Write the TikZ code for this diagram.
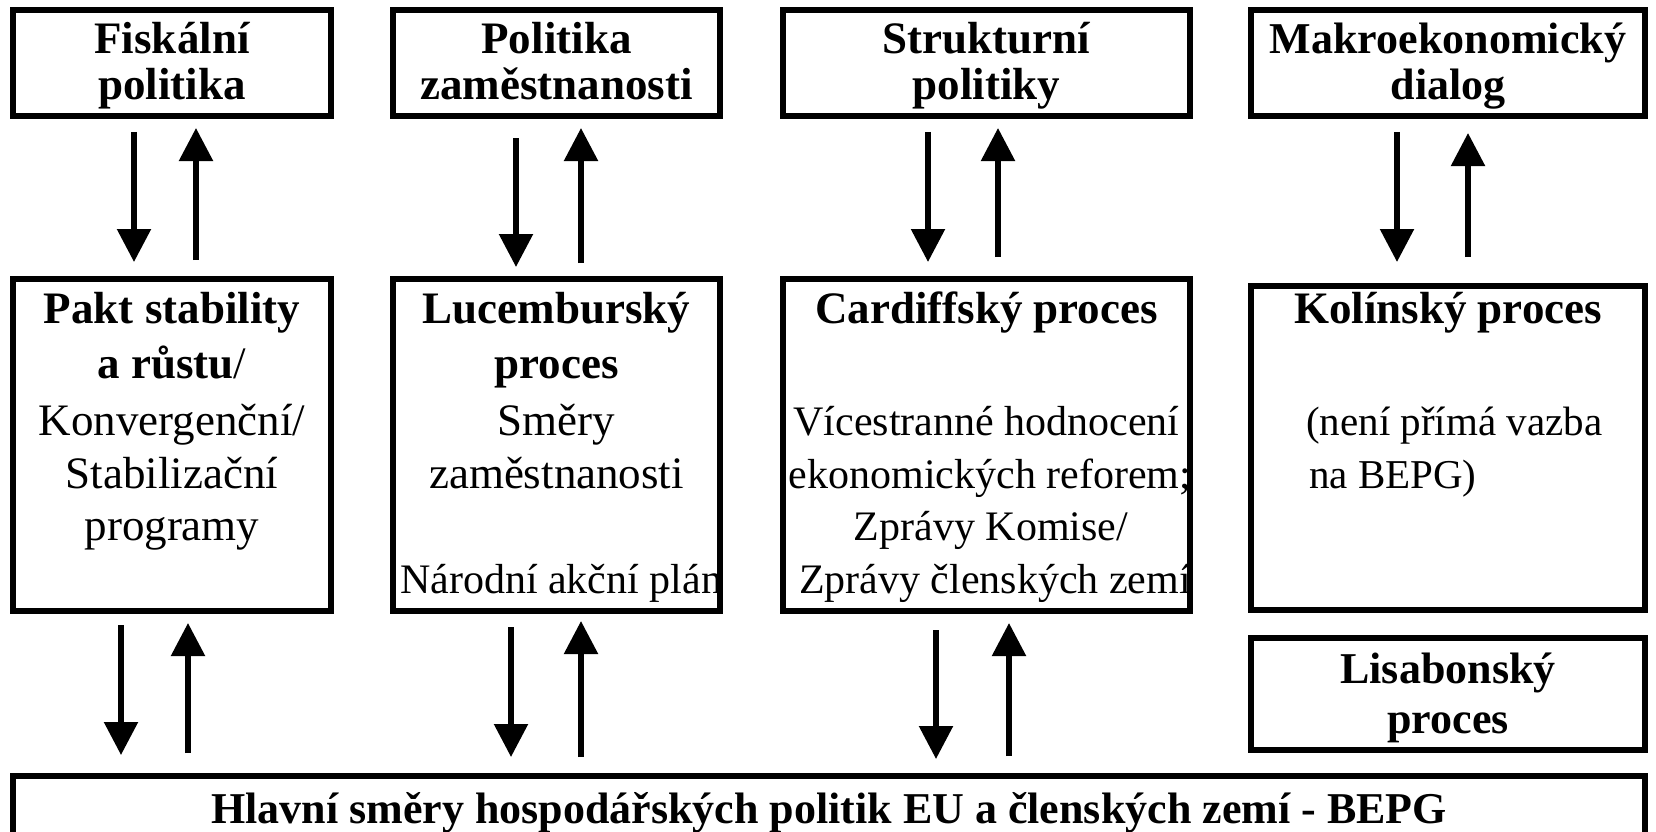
\documentclass[tikz,border=0pt]{standalone}
\usepackage{fontspec}
\setmainfont{Liberation Serif}
\usetikzlibrary{arrows.meta,calc}
\begin{document}
\begin{tikzpicture}[x=1pt,y=-1pt,
  box/.style={draw, line width=6pt, outer sep=3pt, inner sep=0pt, anchor=north west},
  rt/.style={inner sep=0pt, anchor=base, font=\fontsize{45}{50}\selectfont},
  rts/.style={inner sep=0pt, anchor=base, font=\fontsize{42}{50}\selectfont},
  rtx/.style={inner sep=0pt, anchor=base west, font=\fontsize{41}{50}\selectfont},
  bt/.style={inner sep=0pt, anchor=base, font=\fontsize{45}{50}\selectfont\bfseries},
  bts/.style={inner sep=0pt, anchor=base, font=\fontsize{44}{50}\selectfont\bfseries},
  arr/.style={line width=5.5pt, -{Triangle[width=33pt,length=33pt]}}]
\useasboundingbox (0,0) rectangle (1656,832);
\fill[white] (0,0) rectangle (1656,832);

% ---- texts ----
\node[bt] (t1a) at (172,54) {Fiskální};
\node[bt] (t1b) at (172,100) {politika};
\node[bt] (t2a) at (556.5,54) {Politika};
\node[bt] (t2b) at (556.5,100) {zaměstnanosti};
\node[bt] (t3a) at (986.5,54) {Strukturní};
\node[bt] (t3b) at (986.5,100) {politiky};
\node[bts] (t4a) at (1448,54) {Makroekonomický};
\node[bts] (t4b) at (1448,100) {dialog};

\node[bt] (m1a) at (172,323) {Pakt stability};
\node[rt] (m1b) at (172,378) {{\bfseries a růstu}/};
\node[rt] (m1c) at (172,435) {Konvergenční/};
\node[rt] (m1d) at (172,488) {Stabilizační};
\node[rt] (m1e) at (172,540) {programy};

\node[bt] (m2a) at (556.5,323) {Lucemburský};
\node[bt] (m2b) at (556.5,378) {proces};
\node[rt] (m2c) at (556.5,435) {Směry};
\node[rt] (m2d) at (556.5,488) {zaměstnanosti};
\begin{scope}
\clip (393,279) rectangle (720,611);
\node[rts, anchor=base west] (m2e) at (400,593) {Národní akční plán};
\end{scope}

\node[bt] (m3a) at (986.5,323) {Cardiffský proces};
\node[rts] (m3b) at (986.5,435) {Vícestranné hodnocení};
\begin{scope}
\clip (783,279) rectangle (1190,611);
\node[rts] (m3c) at (990,488) {ekonomických reforem;};
\node[rts] (m3e) at (995,593) {Zprávy členských zemí};
\end{scope}
\node[rts] (m3d) at (991,540) {Zprávy Komise/};

\node[bt] (m4a) at (1448,323) {Kolínský proces};
\node[rtx] (m4b) at (1306,435) {(není přímá vazba};
\node[rtx] (m4c) at (1309,488) {na BEPG)};

\node[bts] (lisa) at (1448,683) {Lisabonský};
\node[bts] (lisb) at (1448,733) {proces};

\node[bts] (bott) at (829,823) {Hlavní směry hospodářských politik EU a členských zemí - BEPG};

% ---- boxes ----
\node[box, minimum width=318pt, minimum height=106pt] (t1) at (10,7) {};
\node[box, minimum width=327pt, minimum height=106pt] (t2) at (390,7) {};
\node[box, minimum width=407pt, minimum height=106pt] (t3) at (780,7) {};
\node[box, minimum width=394pt, minimum height=106pt] (t4) at (1248,7) {};

\node[box, minimum width=318pt, minimum height=332pt] (m1) at (10,276) {};
\node[box, minimum width=327pt, minimum height=332pt] (m2) at (390,276) {};
\node[box, minimum width=407pt, minimum height=332pt] (m3) at (780,276) {};
\node[box, minimum width=394pt, minimum height=324pt] (m4) at (1248,283) {};

\node[box, minimum width=394pt, minimum height=112pt] (lis) at (1248,635) {};
\node[box, minimum width=1632pt, minimum height=60pt] (bot) at (10,773) {};

% ---- arrows row 1 -> row 2 ----
\draw[arr] ($(t1.south)+(-38,13)$) -- ($(m1.north)+(-38,-14)$);
\draw[arr] ($(m1.north)+(24,-16)$) -- ($(t1.south)+(24,9)$);
\draw[arr] ($(t2.south)+(-40.5,19)$) -- ($(m2.north)+(-40.5,-9)$);
\draw[arr] ($(m2.north)+(24.5,-13)$) -- ($(t2.south)+(24.5,9)$);
\draw[arr] ($(t3.south)+(-58.5,13)$) -- ($(m3.north)+(-58.5,-14)$);
\draw[arr] ($(m3.north)+(11.5,-19)$) -- ($(t3.south)+(11.5,9)$);
\draw[arr] ($(t4.south)+(-51,13)$) -- ($(m4.north)+(-51,-21)$);
\draw[arr] ($(m4.north)+(20,-26)$) -- ($(t4.south)+(20,14)$);

% ---- arrows row 2 -> bottom ----
\draw[arr] ($(m1.south)+(-51,11)$) -- ($(m1.south |- bot.north)+(-51,-18)$);
\draw[arr] ($(m1.south |- bot.north)+(16,-20)$) -- ($(m1.south)+(16,9)$);
\draw[arr] ($(m2.south)+(-45.5,13)$) -- ($(m2.south |- bot.north)+(-45.5,-16)$);
\draw[arr] ($(m2.south |- bot.north)+(24.5,-16)$) -- ($(m2.south)+(24.5,7)$);
\draw[arr] ($(m3.south)+(-50.5,16)$) -- ($(m3.south |- bot.north)+(-50.5,-14)$);
\draw[arr] ($(m3.south |- bot.north)+(22.5,-17)$) -- ($(m3.south)+(22.5,9)$);
\end{tikzpicture}
\end{document}
